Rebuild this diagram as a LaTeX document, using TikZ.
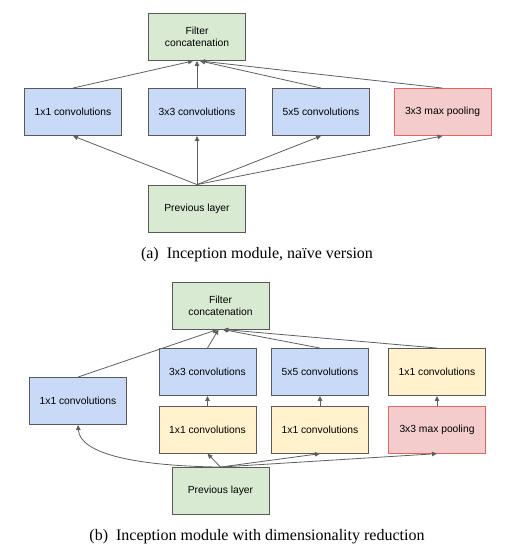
\documentclass[tikz,border=0pt]{standalone}
\usepackage{fontspec}
\setmainfont{Liberation Serif}
\setsansfont{Liberation Sans}
\usetikzlibrary{arrows.meta}
\definecolor{boxgray}{HTML}{595959}
\definecolor{arrgray}{HTML}{5F5F5F}
\definecolor{convblue}{HTML}{C9DAF8}
\definecolor{reduceyellow}{HTML}{FFF2CC}
\definecolor{poolred}{HTML}{F4CCCC}
\definecolor{poolline}{HTML}{E06666}
\definecolor{layergreen}{HTML}{D9EAD3}
\begin{document}
\begin{tikzpicture}[x=1pt,y=-1pt,
	box/.style={draw=boxgray, line width=0.9pt, minimum width=97pt, minimum height=47pt, inner sep=0pt, align=center, font=\sffamily\fontsize{10.3}{12}\selectfont},
	conv/.style={box, fill=convblue},
	reduce/.style={box, fill=reduceyellow},
	poolbox/.style={box, fill=poolred, draw=poolline},
	layer/.style={box, fill=layergreen},
	arr/.style={-{Triangle[length=5pt,width=4.5pt]}, draw=arrgray, line width=0.8pt},
	capt/.style={font=\fontsize{16}{18}\selectfont}]
	\useasboundingbox (0,0) rectangle (504,556);
	% (a) naive version
	\node [layer] (filt_a) at (197,37) {Filter\\concatenation};
	\node [conv] (c1_a) at (73,112) {1x1 convolutions};
	\node [conv] (c3_a) at (197,112) {3x3 convolutions};
	\node [conv] (c5_a) at (321,112) {5x5 convolutions};
	\node [poolbox] (pool_a) at (442.5,112) {3x3 max pooling};
	\node [layer] (prev_a) at (197,208.5) {Previous layer};
	\node [capt] (cap_a) at (257,255) {(a)\enspace Inception module, naïve version};
	% arrows
	\draw[arr] (prev_a.north) -- (c1_a.south);
	\draw[arr] (prev_a.north) -- (c3_a.south);
	\draw[arr] (prev_a.north) -- (c5_a.south);
	\draw[arr] (prev_a.north) -- (pool_a.south);
	\draw[arr] (c1_a.north) -- ([xshift=-4pt]filt_a.south);
	\draw[arr] (c3_a.north) -- (filt_a.south);
	\draw[arr] (c5_a.north) -- ([xshift=3pt]filt_a.south);
	\draw[arr] (pool_a.north) -- ([xshift=3pt]filt_a.south);
	% (b) dimensionality reduction
	\node [layer] (filt_b) at (220.5,305.5) {Filter\\concatenation};
	\node [conv] (c1_b) at (78,401) {1x1 convolutions};
	\node [conv] (c3_b) at (207.5,372) {3x3 convolutions};
	\node [conv] (c5_b) at (320,372) {5x5 convolutions};
	\node [reduce] (pp_b) at (437,372) {1x1 convolutions};
	\node [reduce] (r3_b) at (207.5,429.7) {1x1 convolutions};
	\node [reduce] (r5_b) at (320,429.7) {1x1 convolutions};
	\node [poolbox] (pool_b) at (437,429.7) {3x3 max pooling};
	\node [layer] (prev_b) at (220.5,491) {Previous layer};
	\node [capt] (cap_b) at (257,537) {(b)\enspace Inception module with dimensionality reduction};
	% arrows
	\draw[arr] (prev_b.north) .. controls (140,466) and (80,455) .. (c1_b.south);
	\draw[arr] (prev_b.north) -- (r3_b.south);
	\draw[arr] (prev_b.north) -- (r5_b.south);
	\draw[arr] (prev_b.north) -- (pool_b.south);
	\draw[arr] (r3_b.north) -- (c3_b.south);
	\draw[arr] (r5_b.north) -- (c5_b.south);
	\draw[arr] (pool_b.north) -- (pp_b.south);
	\draw[arr] (c1_b.north) -- ([xshift=-3pt]filt_b.south);
	\draw[arr] (c3_b.north) -- ([xshift=-2pt]filt_b.south);
	\draw[arr] (c5_b.north) -- ([xshift=2pt]filt_b.south);
	\draw[arr] (pp_b.north) -- ([xshift=3pt]filt_b.south);
\end{tikzpicture}
\end{document}
